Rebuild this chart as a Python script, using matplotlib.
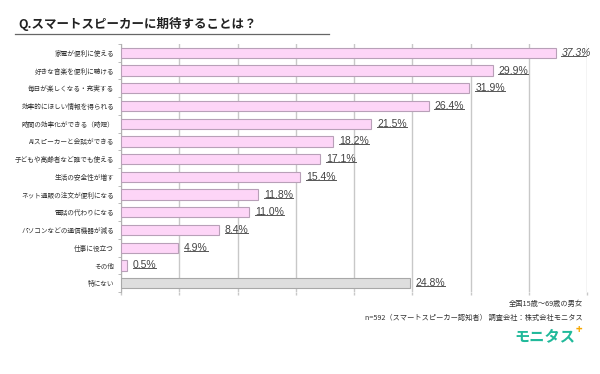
import matplotlib.pyplot as plt
from matplotlib.lines import Line2D

plt.rcParams['font.family'] = ['Noto Sans CJK JP', 'DejaVu Sans']

categories = ['家電が便利に使える', '好きな音楽を便利に聴ける', '毎日が楽しくなる・充実する',
              '効率的にほしい情報を得られる', '時間の効率化ができる（時短）', 'AIスピーカーと会話ができる',
              '子どもや高齢者など誰でも使える', '生活の安全性が増す', 'ネット通販の注文が便利になる',
              '電話の代わりになる', 'パソコンなどの通信機器が減る', '仕事に役立つ', 'その他', '特にない']
# bar lengths as drawn in the source chart
values = [37.3, 31.9, 29.9, 26.4, 21.5, 18.2, 17.1, 15.4, 11.8, 11.0, 8.4, 4.9, 0.5, 24.8]
# printed labels (2nd and 3rd are swapped in the source)
value_labels = ['37.3%', '29.9%', '31.9%', '26.4%', '21.5%', '18.2%', '17.1%', '15.4%',
                '11.8%', '11.0%', '8.4%', '4.9%', '0.5%', '24.8%']

fig = plt.figure(figsize=(6, 3.74), dpi=100)
ax = fig.add_axes([121/600, 1-292/374, 466/600, 248/374])

ypos = list(range(len(categories)))
colors = ['#fdd5f7'] * (len(categories) - 1) + ['#dedede']
edges = ['#b8a0b8'] * (len(categories) - 1) + ['#a8a8a8']
ax.barh(ypos, values, height=0.58, color=colors, edgecolor=edges, linewidth=0.8, zorder=3)

ax.set_xlim(0, 40)
ax.set_ylim(len(categories) - 0.5, -0.5)
ax.set_xticks(range(0, 41, 5))
ax.set_xticklabels([])
ax.tick_params(axis='x', length=2, color='#c8c8c8', width=1)
ax.grid(axis='x', color='#c8c8c8', linewidth=1, zorder=0)
ax.set_yticks(ypos)
ax.set_yticklabels(categories, fontsize=4.8, color='#333333')
ax.tick_params(axis='y', length=0, pad=5)
ax.set_yticks([y - 0.5 for y in range(len(categories) + 1)], minor=True)
ax.tick_params(axis='y', which='minor', length=2, color='#b0b0b0')
for s in ['top', 'right', 'bottom']:
    ax.spines[s].set_visible(False)
ax.spines['left'].set_color('#b0b0b0')

fig.canvas.draw()
renderer = fig.canvas.get_renderer()
inv = ax.transData.inverted()

for i, (v, lab) in enumerate(zip(values, value_labels)):
    t = ax.text(v + 0.5, i, lab, fontsize=7.5, color='#444444', va='center', ha='left',
                family='Liberation Sans', style='italic' if i == 0 else 'normal', zorder=4)
    bb = t.get_window_extent(renderer)
    (x0, y0), (x1, y1) = inv.transform([(bb.x0, bb.y0 + 2), (bb.x1, bb.y0 + 2)])
    ax.add_line(Line2D([x0, x1], [y0, y1], color='#555555', linewidth=0.7, zorder=4))

# title with underline
fig.text(18/600, 1-24/374, 'Q.スマートスピーカーに期待することは？', fontsize=9,
         fontweight='bold', color='#222222', va='center', ha='left')
fig.add_artist(Line2D([15/600, 329/600], [1-34/374, 1-34/374], color='#666666', linewidth=0.9))

# footer
fig.text(583/600, 1-304/374, '全国15歳～69歳の男女', fontsize=5.2, color='#333333', ha='right', va='center')
fig.text(583/600, 1-318/374, 'n=592（スマートスピーカー認知者） 調査会社：株式会社モニタス',
         fontsize=5.2, color='#333333', ha='right', va='center')
fig.text(575/600, 1-336/374, 'モニタス', fontsize=11, fontweight='bold', color='#20b99a',
         ha='right', va='center')
fig.text(576/600, 1-329/374, '+', fontsize=8, fontweight='bold', color='#f7a700',
         ha='left', va='center')

fig.savefig('out.png', dpi=100)
